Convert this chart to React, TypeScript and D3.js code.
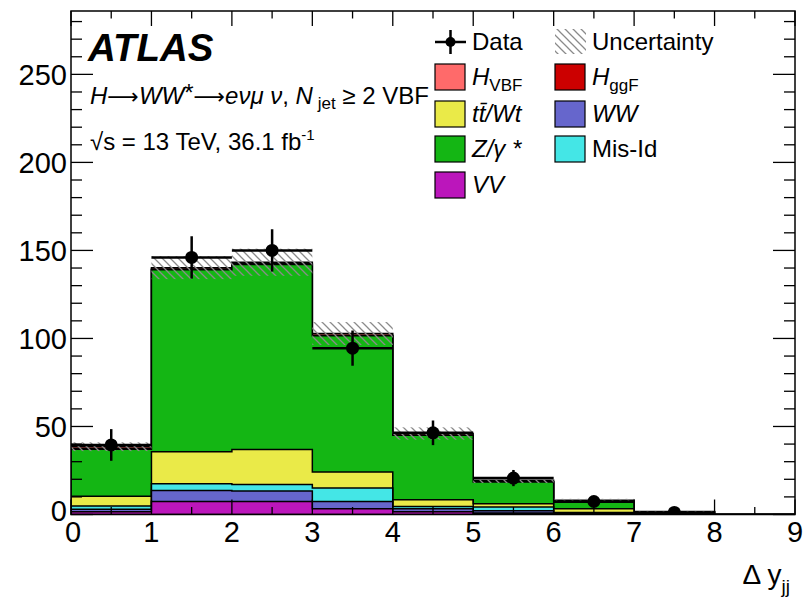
import React from "react";
import * as d3 from "d3";

// Bin edges in Δy_jj
const binEdges = [0, 1, 2, 3, 4, 5, 6, 7, 8, 9];

// Stacked backgrounds and signals per bin (bottom to top)
const vvValues = [1.5, 7.4, 7.4, 3.2, 1.5, 0.8, 0.3, 0.05, 0];
const wwValues = [1.5, 6.3, 5.9, 4.2, 1.7, 1.3, 0.4, 0.05, 0];
const misIdValues = [1.8, 3.8, 3.8, 7.6, 1.4, 2.1, 0.5, 0.1, 0];
const topValues = [5.5, 18.1, 19.8, 9.1, 3.8, 1.9, 2.0, 0.2, 0];
const zValues = [26.7, 103.4, 105.1, 77.4, 36.6, 12.4, 3.8, 1.0, 0];
const hggfValues = [0.5, 0.4, 0.4, 0.3, 0.2, 0.1, 0.1, 0.02, 0];
const hvbfValues = [1.0, 0.8, 0.9, 1.0, 0.8, 0.8, 1.0, 0.3, 0];

// Total prediction uncertainty (±) per bin
const uncValues = [2.5, 6.5, 7.7, 6.5, 3.5, 1.5, 0.8, 0.3, 0];

// Observed data and its errors
const dataValues = [39.5, 146, 150, 94.5, 46.4, 20.7, 7.4, 1.2];
const dataErrors = [9, 12, 12, 10, 7, 4.6, 3, 1.2];

const yMajorTicks = [0, 50, 100, 150, 200, 250];
const xMajorTicks = [0, 1, 2, 3, 4, 5, 6, 7, 8, 9];

const layers = [
  { key: "VV", values: vvValues, color: "#bb16bb" },
  { key: "WW", values: wwValues, color: "#6666cc" },
  { key: "MisId", values: misIdValues, color: "#44e6e6" },
  { key: "Top", values: topValues, color: "#eaea48" },
  { key: "Z", values: zValues, color: "#14b614" },
  { key: "HggF", values: hggfValues, color: "#cc0000" },
  { key: "HVBF", values: hvbfValues, color: "#ff6a6a" },
];

const W = 804;
const H = 604;
const FONT = "'Liberation Sans', Arial, Helvetica, sans-serif";
const ARROW_FONT = "'DejaVu Sans', sans-serif";

export default function App() {
  const x = d3.scaleLinear().domain([0, 9]).range([71, 795]);
  const y = d3.scaleLinear().domain([0, 286]).range([514.5, 11]);

  const nBins = binEdges.length - 1;
  const rows = d3.range(nBins).map((i) => {
    const r: Record<string, number> = {};
    layers.forEach((l) => (r[l.key] = l.values[i]));
    return r;
  });
  const stacked = d3.stack<Record<string, number>>().keys(layers.map((l) => l.key))(rows);
  const totals = rows.map((_, i) => stacked[stacked.length - 1][i][1]);

  // Cumulative histogram outline, filled down to zero
  const stepArea = d3
    .area<number>()
    .x((_, i) => x(binEdges[i]))
    .y0(y(0))
    .y1((d) => y(d))
    .curve(d3.curveStepAfter);

  const yMinor = d3.range(0, 287, 10);
  const xMinor = d3.range(0, 9.01, 0.5);

  const legendLeft = [
    { label: "HVBF", color: "#ff6a6a" },
    { label: "Top", color: "#eaea48" },
    { label: "Z", color: "#14b614" },
    { label: "VV", color: "#bb16bb" },
  ];
  const legendRight = [
    { label: "HggF", color: "#cc0000" },
    { label: "WW", color: "#6666cc" },
    { label: "MisId", color: "#44e6e6" },
  ];
  const rowY = [77, 114, 149, 185];

  const legendText = (key: string) => {
    switch (key) {
      case "HVBF":
        return (
          <>
            <tspan fontStyle="italic">H</tspan>
            <tspan fontSize={17} dy={6}>VBF</tspan>
          </>
        );
      case "HggF":
        return (
          <>
            <tspan fontStyle="italic">H</tspan>
            <tspan fontSize={17} dy={6}>ggF</tspan>
          </>
        );
      case "Top":
        return <tspan fontStyle="italic">t{"t\u0304"}/Wt</tspan>;
      case "Z":
        return <tspan fontStyle="italic">Z/γ *</tspan>;
      case "VV":
        return <tspan fontStyle="italic">VV</tspan>;
      case "WW":
        return <tspan fontStyle="italic">WW</tspan>;
      case "MisId":
        return <tspan>Mis-Id</tspan>;
    }
    return null;
  };

  return (
    <svg
      width={W}
      height={H}
      style={{ position: "absolute", left: 0, top: 0, background: "#fff" }}
      fontFamily={FONT}
    >
      <defs>
        <pattern id="hatch" patternUnits="userSpaceOnUse" width={8} height={8}>
          <path d="M-2,-2 L10,10 M-6,2 L2,10 M6,-2 L10,2" stroke="#8a8a8a" strokeWidth={1.3} />
        </pattern>
        <clipPath id="plotClip">
          <rect x={71} y={11} width={724} height={503.5} />
        </clipPath>
      </defs>

      <rect x={0} y={0} width={W} height={H} fill="#fff" />

      {/* stacked histograms, drawn top layer first */}
      <g clipPath="url(#plotClip)">
        {stacked
          .slice()
          .reverse()
          .map((s, idx) => {
            const layer = layers[layers.length - 1 - idx];
            const tops = s.map((d) => d[1]);
            const pts = [...tops, tops[tops.length - 1]];
            return (
              <path
                key={layer.key}
                d={stepArea(pts) || ""}
                fill={layer.color}
                stroke="#000"
                strokeWidth={1.5}
              />
            );
          })}

        {/* uncertainty band */}
        {totals.map((t, i) =>
          uncValues[i] > 0 ? (
            <rect
              key={"u" + i}
              x={x(binEdges[i])}
              width={x(binEdges[i + 1]) - x(binEdges[i])}
              y={y(t + uncValues[i])}
              height={y(t - uncValues[i]) - y(t + uncValues[i])}
              fill="url(#hatch)"
            />
          ) : null
        )}

        {/* data */}
        {dataValues.map((v, i) => {
          const cx = x((binEdges[i] + binEdges[i + 1]) / 2);
          return (
            <g key={"d" + i} stroke="#000" strokeWidth={2.5}>
              <line x1={x(binEdges[i])} x2={x(binEdges[i + 1])} y1={y(v)} y2={y(v)} />
              <line x1={cx} x2={cx} y1={y(v + dataErrors[i])} y2={y(Math.max(0, v - dataErrors[i]))} />
              <circle cx={cx} cy={y(v)} r={6.5} fill="#000" stroke="none" />
            </g>
          );
        })}
      </g>

      {/* frame */}
      <rect x={71} y={11} width={724} height={503.5} fill="none" stroke="#000" strokeWidth={1.5} />

      {/* y ticks */}
      {yMinor.map((t) => {
        const major = t % 50 === 0;
        const len = major ? 22 : 11;
        return (
          <g key={"yt" + t} stroke="#000" strokeWidth={1.3}>
            <line x1={71} x2={71 + len} y1={y(t)} y2={y(t)} />
            <line x1={795} x2={795 - len} y1={y(t)} y2={y(t)} />
          </g>
        );
      })}
      {/* x ticks */}
      {xMinor.map((t) => {
        const major = Math.abs(t - Math.round(t)) < 1e-6;
        const len = major ? 15 : 7.5;
        return (
          <g key={"xt" + t} stroke="#000" strokeWidth={1.3}>
            <line x1={x(t)} x2={x(t)} y1={514.5} y2={514.5 - len} />
            <line x1={x(t)} x2={x(t)} y1={11} y2={11 + len} />
          </g>
        );
      })}

      {/* tick labels */}
      {yMajorTicks.map((t) => (
        <text key={"yl" + t} x={67} y={y(t) + (t === 0 ? 6 : 10.5)} textAnchor="end" fontSize={29}>
          {t}
        </text>
      ))}
      {xMajorTicks.map((t) => (
        <text key={"xl" + t} x={x(t) + (t === 0 ? 2 : 0)} y={542} textAnchor="middle" fontSize={29}>
          {t}
        </text>
      ))}

      {/* axis title */}
      <text x={790} y={584} textAnchor="end" fontSize={28}>
        Δ y<tspan fontSize={19} dy={9}>jj</tspan>
      </text>

      {/* labels */}
      <text x={88} y={61} fontSize={38.5} fontWeight="bold" fontStyle="italic">
        ATLAS
      </text>
      <text x={90} y={104} fontSize={24}>
        <tspan fontStyle="italic">H</tspan>
        <tspan fontFamily={ARROW_FONT} fontSize={22}>⟶</tspan>
        <tspan fontStyle="italic">WW</tspan>
        <tspan dy={-3}>*</tspan>
        <tspan dy={3} fontFamily={ARROW_FONT} fontSize={22}>⟶</tspan>
        <tspan fontStyle="italic">eνμ ν</tspan>, <tspan fontStyle="italic">N</tspan>
        <tspan fontSize={17} dy={5}> jet</tspan>
        <tspan dy={-5}> ≥ 2 VBF</tspan>
      </text>
      <text x={90} y={150} fontSize={24}>
        √s = 13 TeV, 36.1 fb<tspan fontSize={15} dy={-10}>-1</tspan>
      </text>

      {/* legend */}
      <g stroke="#000" strokeWidth={2.5}>
        <line x1={435} x2={466} y1={42} y2={42} />
        <line x1={450.5} x2={450.5} y1={30} y2={54} />
        <circle cx={450.5} cy={42} r={5} fill="#000" stroke="none" />
      </g>
      <text x={472} y={50} fontSize={24}>Data</text>
      <rect x={555} y={29} width={31} height={25} fill="url(#hatch)" />
      <text x={592} y={50} fontSize={24}>Uncertainty</text>

      {legendLeft.map((l, i) => (
        <g key={"ll" + l.label}>
          <rect x={435} y={rowY[i] - 13} width={30} height={26} fill={l.color} stroke="#000" strokeWidth={1.2} />
          <text x={472} y={rowY[i] + 8} fontSize={24}>
            {legendText(l.label)}
          </text>
        </g>
      ))}
      {legendRight.map((l, i) => (
        <g key={"lr" + l.label}>
          <rect x={555} y={rowY[i] - 13} width={30} height={26} fill={l.color} stroke="#000" strokeWidth={1.2} />
          <text x={592} y={rowY[i] + 8} fontSize={24}>
            {legendText(l.label)}
          </text>
        </g>
      ))}
    </svg>
  );
}
